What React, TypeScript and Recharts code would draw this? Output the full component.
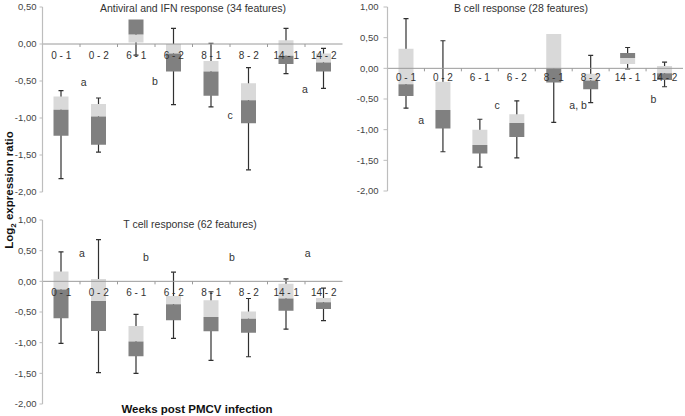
import React from 'react';
import {
  ComposedChart,
  Bar,
  Line,
  XAxis,
  YAxis,
  ReferenceLine,
  ReferenceDot,
  LabelList,
} from 'recharts';

type Range = [number, number];

const categories = ['0 - 1', '0 - 2', '6 - 1', '6 - 2', '8 - 1', '8 - 2', '14 - 1', '14 - 2'];

// Antiviral and IFN response (34 features)
const antiviralWhiskers: Range[] = [[-1.82, -0.63], [-1.46, -0.73], [-0.15, 0.26], [-0.82, 0.21], [-0.85, 0.01], [-1.70, -0.32], [-0.40, 0.21], [-0.60, -0.06]];
const antiviralLight: Range[] = [[-0.89, -0.71], [-0.98, -0.81], [0.02, 0.13], [-0.13, 0.0], [-0.37, -0.23], [-0.76, -0.53], [-0.16, 0.05], [-0.25, -0.13]];
const antiviralDark: Range[] = [[-1.24, -0.89], [-1.36, -0.98], [0.13, 0.33], [-0.37, -0.13], [-0.70, -0.37], [-1.07, -0.76], [-0.27, -0.16], [-0.37, -0.25]];
const antiviralLetters = ['a', 'b', 'c', 'a'];
const antiviralLetterX = [1.1, 3.0, 5.0, 7.0];
const antiviralLetterY = [-0.51, -0.5, -0.96, -0.61];
const antiviralTicks = [-2, -1.5, -1, -0.5, 0, 0.5];

// B cell response (28 features)
const bcellWhiskers: Range[] = [[-0.65, 0.81], [-1.36, 0.45], [-1.61, -0.83], [-1.46, -0.53], [-0.88, 0.55], [-0.56, 0.21], [-0.01, 0.34], [-0.30, 0.10]];
const bcellLight: Range[] = [[-0.26, 0.32], [-0.68, -0.22], [-1.25, -1.0], [-0.89, -0.75], [0.0, 0.56], [-0.20, -0.09], [0.07, 0.17], [-0.08, 0.04]];
const bcellDark: Range[] = [[-0.45, -0.26], [-0.98, -0.68], [-1.39, -1.25], [-1.12, -0.89], [-0.23, 0.0], [-0.34, -0.20], [0.17, 0.25], [-0.19, -0.08]];
const bcellLetters = ['a', 'c', 'a, b', 'b'];
const bcellLetterX = [0.91, 2.97, 5.16, 7.2];
const bcellLetterY = [-0.85, -0.59, -0.59, -0.5];
const bcellTicks = [-2, -1.5, -1, -0.5, 0, 0.5, 1];

// T cell response (62 features)
const tcellWhiskers: Range[] = [[-1.01, 0.48], [-1.49, 0.68], [-1.50, -0.54], [-0.93, 0.15], [-1.29, -0.17], [-1.23, -0.28], [-0.78, 0.04], [-0.64, -0.11]];
const tcellLight: Range[] = [[-0.135, 0.16], [-0.32, 0.04], [-0.98, -0.73], [-0.375, -0.24], [-0.58, -0.31], [-0.61, -0.49], [-0.28, -0.04], [-0.34, -0.27]];
const tcellDark: Range[] = [[-0.60, -0.135], [-0.81, -0.32], [-1.22, -0.98], [-0.635, -0.375], [-0.815, -0.58], [-0.84, -0.61], [-0.48, -0.28], [-0.45, -0.34]];
const tcellLetters = ['a', 'b', 'b', 'a'];
const tcellLetterX = [1.05, 2.76, 5.05, 7.07];
const tcellLetterY = [0.46, 0.39, 0.40, 0.47];
const tcellTicks = [-2, -1.5, -1, -0.5, 0, 0.5, 1];

const FONT = '"Liberation Sans", Arial, Helvetica, sans-serif';
const LIGHT = '#d9d9d9';
const DARK = '#808080';
const WHISK = '#303030';
const AXIS = '#bdbdbd';
const ZERO = '#9a9a9a';
const TEXT = '#333333';

const fmt = (v: number) => v.toFixed(2).replace('.', ',');

function WhiskerShape(props: any) {
  const { x, y, width, height } = props;
  if (x == null || y == null || width == null || height == null) return null;
  const cx = x + width / 2;
  const top = Math.min(y, y + height);
  const bottom = Math.max(y, y + height);
  return (
    <g>
      <line x1={cx} x2={cx} y1={top} y2={bottom} stroke={WHISK} strokeWidth={1.2} />
      <line x1={cx - 2.5} x2={cx + 2.5} y1={top} y2={top} stroke={WHISK} strokeWidth={1.2} />
      <line x1={cx - 2.5} x2={cx + 2.5} y1={bottom} y2={bottom} stroke={WHISK} strokeWidth={1.2} />
    </g>
  );
}

interface PanelProps {
  left: number;
  top: number;
  width: number;
  height: number;
  margin: { top: number; right: number; bottom: number; left: number };
  yWidth: number;
  tickSize: number;
  tickMargin: number;
  ticks: number[];
  whiskers: Range[];
  light: Range[];
  dark: Range[];
  letters: string[];
  letterX: number[];
  letterY: number[];
  labelOffset: number;
}

function Panel(p: PanelProps) {
  const data = categories.map((cat, i) => ({
    cat,
    pos: i + 0.5,
    whisker: p.whiskers[i],
    light: p.light[i],
    dark: p.dark[i],
    zero: 0,
  }));
  const boundaries = categories.slice(1).map((_, i) => i + 1);
  const domain: [number, number] = [p.ticks[0], p.ticks[p.ticks.length - 1]];
  return (
    <div style={{ position: 'absolute', left: p.left, top: p.top }}>
      <ComposedChart
        width={p.width}
        height={p.height}
        data={data}
        margin={p.margin}
        barGap={-15}
      >
        <XAxis
          dataKey="pos"
          type="number"
          domain={[0, categories.length]}
          allowDataOverflow
          hide
        />
        <YAxis
          domain={domain}
          ticks={p.ticks}
          interval={0}
          allowDataOverflow
          width={p.yWidth}
          tickFormatter={fmt}
          tickSize={p.tickSize}
          tickMargin={p.tickMargin}
          axisLine={{ stroke: AXIS, strokeWidth: 1.2 }}
          tickLine={{ stroke: AXIS }}
          tick={{ fontSize: 9.5, fill: '#444', fontFamily: FONT }}
        />
        <Bar dataKey="whisker" barSize={15} shape={WhiskerShape} isAnimationActive={false} />
        <Bar dataKey="light" barSize={15} fill={LIGHT} isAnimationActive={false} />
        <Bar dataKey="dark" barSize={15} fill={DARK} isAnimationActive={false} />
        <ReferenceLine y={0} stroke={ZERO} strokeWidth={1} />
        {boundaries.map((b) => (
          <ReferenceDot
            key={'b' + b}
            x={b}
            y={0}
            r={1}
            shape={(s: any) => (
              <line x1={s.cx} x2={s.cx} y1={s.cy} y2={s.cy + 3} stroke={ZERO} strokeWidth={1} />
            )}
          />
        ))}
        {p.letters.map((t, i) => (
          <ReferenceDot
            key={'l' + i}
            x={p.letterX[i]}
            y={p.letterY[i]}
            r={1}
            shape={(s: any) => (
              <text
                x={s.cx}
                y={s.cy + 4}
                textAnchor="middle"
                fontSize={10.5}
                fontFamily={FONT}
                fill={TEXT}
              >
                {t}
              </text>
            )}
          />
        ))}
        <Line dataKey="zero" stroke="none" dot={false} activeDot={false} isAnimationActive={false} legendType="none">
          <LabelList dataKey="cat" position="bottom" offset={p.labelOffset} fill={TEXT} fontSize={10} fontFamily={FONT} />
        </Line>
      </ComposedChart>
    </div>
  );
}

export default function App() {
  return (
    <div style={{ position: 'absolute', left: 0, top: 0, width: 685, height: 416, background: '#fff', fontFamily: FONT }}>
      <Panel
        left={0}
        top={0}
        width={345}
        height={200}
        margin={{ top: 7, right: 2.5, bottom: 8, left: 5.5 }}
        yWidth={37}
        tickSize={3}
        tickMargin={3}
        ticks={antiviralTicks}
        whiskers={antiviralWhiskers}
        light={antiviralLight}
        dark={antiviralDark}
        letters={antiviralLetters}
        letterX={antiviralLetterX}
        letterY={antiviralLetterY}
        labelOffset={8}
      />
      <Panel
        left={340}
        top={0}
        width={345}
        height={200}
        margin={{ top: 7, right: 2, bottom: 9, left: 7.5 }}
        yWidth={40}
        tickSize={4}
        tickMargin={5}
        ticks={bcellTicks}
        whiskers={bcellWhiskers}
        light={bcellLight}
        dark={bcellDark}
        letters={bcellLetters}
        letterX={bcellLetterX}
        letterY={bcellLetterY}
        labelOffset={6}
      />
      <Panel
        left={0}
        top={200}
        width={345}
        height={216}
        margin={{ top: 20, right: 2.5, bottom: 12, left: 5.5 }}
        yWidth={37}
        tickSize={3}
        tickMargin={3}
        ticks={tcellTicks}
        whiskers={tcellWhiskers}
        light={tcellLight}
        dark={tcellDark}
        letters={tcellLetters}
        letterX={tcellLetterX}
        letterY={tcellLetterY}
        labelOffset={8}
      />
      <svg width={685} height={416} style={{ position: 'absolute', left: 0, top: 0, pointerEvents: 'none' }}>
        <text x={193} y={12} textAnchor="middle" fontSize={10.5} fontFamily={FONT} fill={TEXT}>
          Antiviral and IFN response (34 features)
        </text>
        <text x={521} y={12} textAnchor="middle" fontSize={10.5} fontFamily={FONT} fill={TEXT}>
          B cell response (28 features)
        </text>
        <text x={190} y={228} textAnchor="middle" fontSize={10.5} fontFamily={FONT} fill={TEXT}>
          T cell response (62 features)
        </text>
        <text x={197} y={413} textAnchor="middle" fontSize={11.5} fontWeight="bold" fontFamily={FONT} fill="#111">
          Weeks post PMCV infection
        </text>
        <text
          transform="translate(13,190) rotate(-90)"
          textAnchor="middle"
          fontSize={11.5}
          fontWeight="bold"
          fontFamily={FONT}
          fill="#111"
        >
          Log<tspan dy={3} fontSize={8}>2</tspan>
          <tspan dy={-3}> expression ratio</tspan>
        </text>
      </svg>
    </div>
  );
}
